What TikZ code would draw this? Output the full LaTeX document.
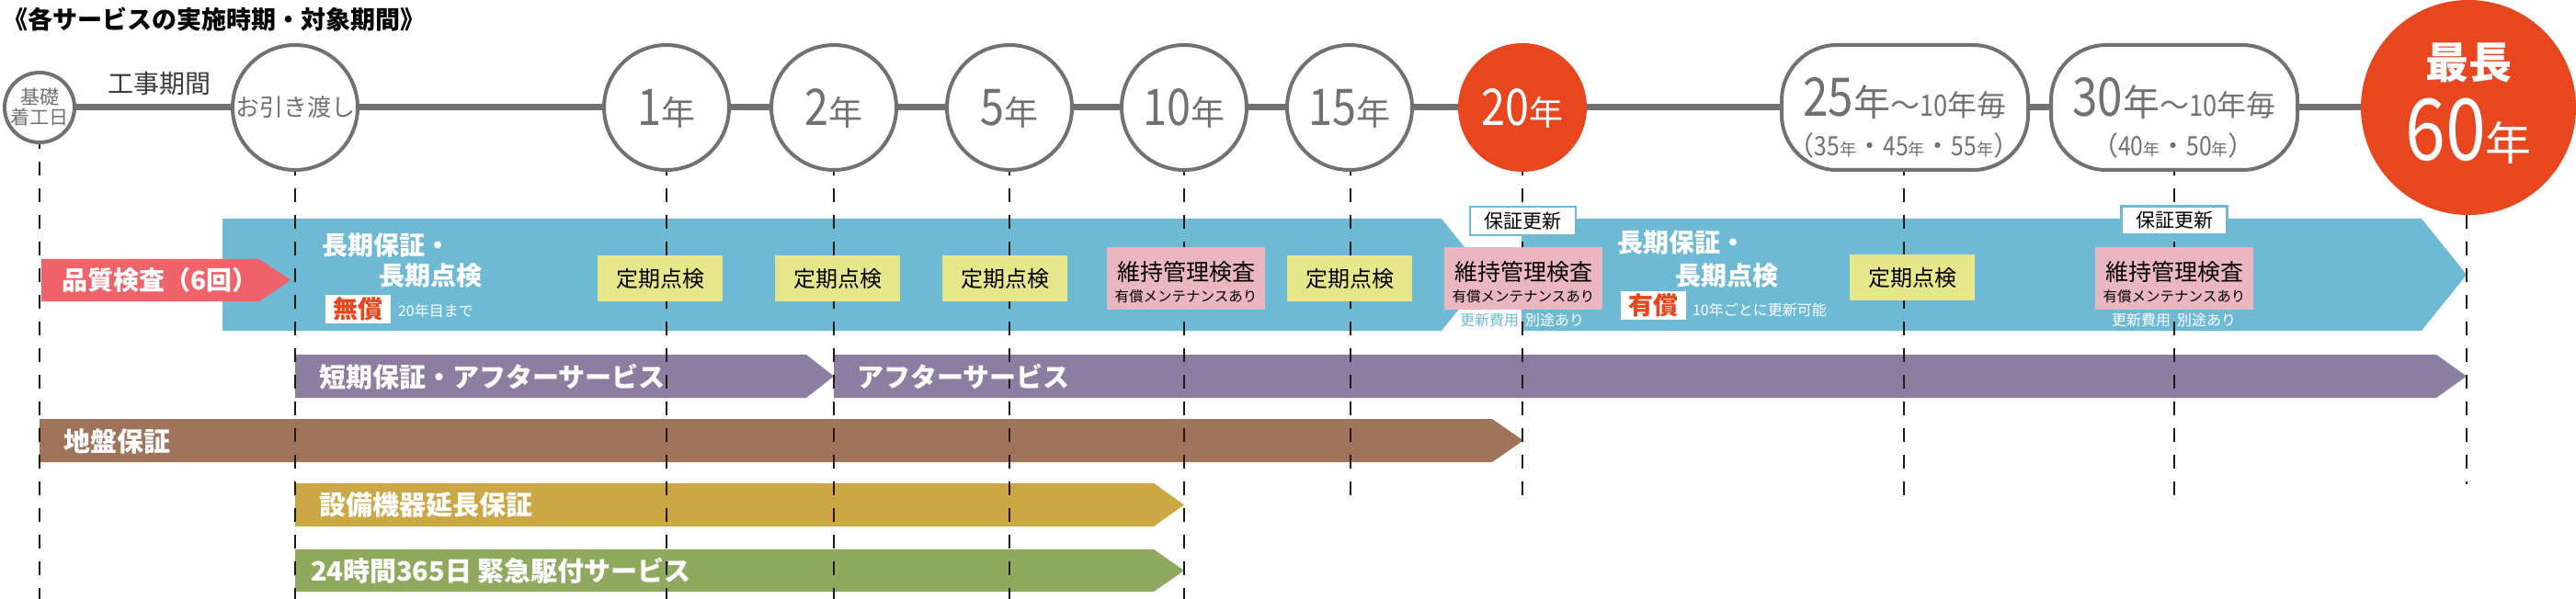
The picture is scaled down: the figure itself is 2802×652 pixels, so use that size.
\documentclass[tikz,border=0pt]{standalone}
\usepackage{fontspec}
\setmainfont{Noto Sans CJK JP}
\newfontfamily\dg{Noto Sans CJK JP}[FakeStretch=0.85]
\usetikzlibrary{backgrounds}
\definecolor{lgray}{HTML}{727171}
\definecolor{dtext}{HTML}{3E3A39}
\definecolor{ored}{HTML}{E8461E}
\definecolor{lblue}{HTML}{6EBAD5}
\definecolor{qpink}{HTML}{F0636A}
\definecolor{kyellow}{HTML}{E6E68B}
\definecolor{mpink}{HTML}{EAB7C0}
\definecolor{purp}{HTML}{8B7EA0}
\definecolor{brwn}{HTML}{A0745A}
\definecolor{goldc}{HTML}{CCA746}
\definecolor{grn}{HTML}{8FAA5E}
\definecolor{dline}{HTML}{231815}
\newcommand\yrlab[1]{{\fontsize{55}{55}\selectfont\dg #1}{\fontsize{37}{37}\selectfont 年}}
\newcommand\smnen{\fontsize{18}{18}\selectfont 年}
\begin{document}
\begin{tikzpicture}[x=1pt,y=-1pt,
  txt/.style={inner sep=0pt, outer sep=0pt},
  circ/.style={circle, draw=lgray, line width=4pt, fill=white, minimum size=136pt, inner sep=0pt},
  rcirc/.style={circle, fill=ored, minimum size=140pt, inner sep=0pt},
  rbox/.style={rectangle, rounded corners=60pt, draw=lgray, line width=4pt, fill=white, minimum width=268pt, minimum height=136pt, inner sep=0pt},
  vdash/.style={draw=dline, line width=2pt, dash pattern=on 15pt off 14pt},
  tline/.style={draw=lgray, line width=7pt},
  teiki/.style={fill=kyellow, minimum width=136pt, minimum height=50pt, inner sep=0pt, font=\fontsize{24}{24}\selectfont},
  iji/.style={fill=mpink, minimum width=172pt, minimum height=68pt, inner sep=0pt},
  ijia/.style={txt, font=\fontsize{25}{25}\selectfont},
  ijib/.style={txt, font=\fontsize{15.5}{15.5}\selectfont},
  hosho/.style={fill=white, draw=lblue, line width=2.5pt, minimum width=115pt, minimum height=31pt, inner sep=0pt, font=\fontsize{21}{21}\selectfont},
  wbox/.style={fill=white, minimum width=71pt, minimum height=31pt, inner sep=0pt, text=ored, font=\bfseries\fontsize{27}{27}\selectfont},
  bartxt/.style={txt, text=white, anchor=west, font=\bfseries\fontsize{29}{29}\selectfont},
  bandtxt/.style={txt, text=white, anchor=west, font=\bfseries\fontsize{28}{28}\selectfont},
  smalltxt/.style={txt, text=white, font=\fontsize{16}{16}\selectfont},
]
\useasboundingbox (0,0) rectangle (2802,652);

% title
\node[txt, anchor=west, font=\bfseries\fontsize{27}{27}\selectfont] (title) at (4,21) {《各サービスの実施時期・対象期間》};
\node[txt, anchor=west, text=dtext, font=\fontsize{28}{28}\selectfont] (koji) at (117,91) {工事期間};

% bands
\fill[lblue] (242,238) -- (1568,238) -- (1617,299) -- (1568,360) -- (242,360) -- cycle;
\fill[lblue] (1655,238) -- (2634,238) -- (2683,299) -- (2634,360) -- (1655,360) -- cycle;
\fill[qpink] (45,282) -- (282,282) -- (316,305) -- (282,328) -- (45,328) -- cycle;
\fill[purp] (321,386) -- (877,386) -- (907,409.5) -- (877,433) -- (321,433) -- cycle;
\fill[purp] (907,386) -- (2650,386) -- (2683,409.5) -- (2650,433) -- (907,433) -- cycle;
\fill[brwn] (43,456) -- (1623,456) -- (1657,479.5) -- (1623,503) -- (43,503) -- cycle;
\fill[goldc] (321,526) -- (1255,526) -- (1288,549.5) -- (1255,573) -- (321,573) -- cycle;
\fill[grn] (321,598) -- (1255,598) -- (1288,621) -- (1255,644) -- (321,644) -- cycle;

% dashed guide lines
\foreach \n/\x/\yb in {0/43/652, h/321/652, 1/725/652, 2/907/652, 5/1098/652, 10/1288/652, 15/1469/542, 20/1656/542, 25/2071/542, 30/2365/542, 60/2683/527} {
  \coordinate (dt\n) at (\x,147);
  \coordinate (db\n) at (\x,\yb);
  \draw[vdash] (dt\n) -- (db\n);
}

% timeline circles
\node[circ, minimum size=76pt] (c0) at (43,117) {};
\node[circ] (ch) at (321,117) {};
\node[circ] (c1) at (725,117) {};
\node[circ] (c2) at (907,117) {};
\node[circ] (c5) at (1098,117) {};
\node[circ] (c10) at (1288,117) {};
\node[circ] (c15) at (1468,117) {};
\node[rcirc] (c20) at (1656,117) {};
\node[rbox] (c25) at (2072,117) {};
\node[rbox] (c30) at (2365,117) {};
\node[rcirc, minimum size=234pt] (c60) at (2685,117) {};
\begin{pgfonlayer}{background}
\draw[tline] (c0.center) -- (c60.center);
\end{pgfonlayer}

% circle texts
\node[txt, text=lgray, align=center, font=\fontsize{21}{22}\selectfont] (t0) at (c0) {基礎\\着工日};
\node[txt, text=lgray, font=\fontsize{26}{26}\selectfont] (th) at (ch) {お引き渡し};
\node[txt, text=lgray, anchor=base] (t1) at (725,137) {\yrlab{1}};
\node[txt, text=lgray, anchor=base] (t2) at (907,137) {\yrlab{2}};
\node[txt, text=lgray, anchor=base] (t5) at (1098,137) {\yrlab{5}};
\node[txt, text=lgray, anchor=base] (t10) at (1288,137) {\yrlab{10}};
\node[txt, text=lgray, anchor=base] (t15) at (1468,137) {\yrlab{15}};
\node[txt, text=white, anchor=base] (t20) at (1656,137) {\yrlab{20}};
\node[txt, text=lgray, anchor=base] (t25a) at (2072,127) {{\fontsize{58}{58}\selectfont\dg 25}{\fontsize{40}{40}\selectfont 年}{\fontsize{32}{32}\selectfont ～{\dg 10}年毎}};
\node[txt, text=lgray, anchor=base] (t25b) at (2071,170) {\fontsize{29}{29}\selectfont （{\dg 35}{\smnen}・{\dg 45}{\smnen}・{\dg 55}{\smnen}）};
\node[txt, text=lgray, anchor=base] (t30a) at (2365,127) {{\fontsize{58}{58}\selectfont\dg 30}{\fontsize{40}{40}\selectfont 年}{\fontsize{32}{32}\selectfont ～{\dg 10}年毎}};
\node[txt, text=lgray, anchor=base] (t30b) at (2364,170) {\fontsize{29}{29}\selectfont （{\dg 40}{\smnen}・{\dg 50}{\smnen}）};
\node[txt, text=white, font=\bfseries\fontsize{47}{47}\selectfont] (t60a) at (2685,68) {最長};
\node[txt, text=white, anchor=base] (t60b) at (2685,175) {{\fontsize{93}{93}\selectfont\dg 60}{\fontsize{50}{50}\selectfont 年}};

% band texts
\node[txt, text=white, anchor=west, font=\bfseries\fontsize{28}{28}\selectfont] (qc) at (67,305) {品質検査（6回）};
\node[bandtxt] (lg1a) at (350,267) {長期保証・};
\node[bandtxt] (lg1b) at (412,300) {長期点検};
\node[wbox] (mu) at (389.5,336.5) {無償};
\node[smalltxt, anchor=west] (mu2) at (433,338) {20年目まで};
\node[bandtxt] (lg2a) at (1759,264) {長期保証・};
\node[bandtxt] (lg2b) at (1822,300) {長期点検};
\node[wbox] (yu) at (1798.5,332.5) {有償};
\node[smalltxt, anchor=west] (yu2) at (1841,337) {10年ごとに更新可能};

% inspection boxes
\node[teiki] (k1) at (718,303) {定期点検};
\node[teiki] (k2) at (911,303) {定期点検};
\node[teiki] (k5) at (1093,303) {定期点検};
\node[teiki] (k15) at (1468,303) {定期点検};
\node[teiki] (k25) at (2080,302) {定期点検};
\node[iji] (m10) at (1290,303) {};
\node[ijia] (m10a) at (1290,296) {維持管理検査};
\node[ijib] (m10b) at (1290,322.5) {有償メンテナンスあり};
\node[iji] (m20) at (1657,303) {};
\node[ijia] (m20a) at (1657,296) {維持管理検査};
\node[ijib] (m20b) at (1657,322.5) {有償メンテナンスあり};
\node[iji] (m30) at (2365,303) {};
\node[ijia] (m30a) at (2365,296) {維持管理検査};
\node[ijib] (m30b) at (2365,322.5) {有償メンテナンスあり};
\node[hosho] (h20) at (1656.5,240.5) {保証更新};
\node[hosho] (h30) at (2365,240) {保証更新};
\node[smalltxt, text=lblue, anchor=east] (f20a) at (1652,348) {更新費用};
\node[smalltxt, anchor=west] (f20b) at (1659,348) {別途あり};
\node[smalltxt, anchor=east] (f30a) at (2361,348) {更新費用};
\node[smalltxt, anchor=west] (f30b) at (2368,348) {別途あり};

% bar texts
\node[bartxt] (b1) at (347,410) {短期保証・アフターサービス};
\node[bartxt] (b2) at (932,410) {アフターサービス};
\node[bartxt] (b3) at (69,480) {地盤保証};
\node[bartxt] (b4) at (347,550) {設備機器延長保証};
\node[bartxt] (b5) at (338,621) {24時間365日 緊急駆付サービス};
\end{tikzpicture}
\end{document}
